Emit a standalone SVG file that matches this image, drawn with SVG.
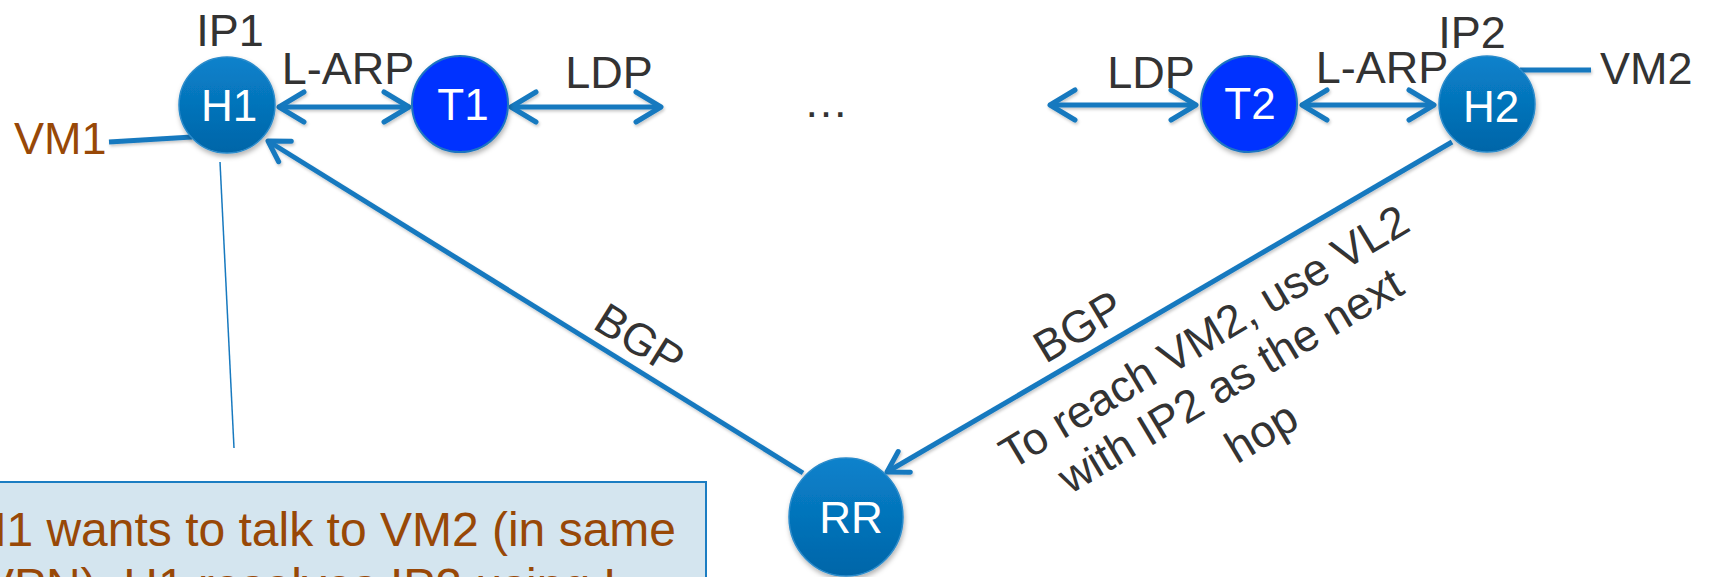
<svg xmlns="http://www.w3.org/2000/svg" width="1712" height="577" viewBox="0 0 1712 577">
  <defs>
    <linearGradient id="gH" x1="0" y1="0" x2="0" y2="1">
      <stop offset="0" stop-color="#0A82CC"/>
      <stop offset="1" stop-color="#0065A8"/>
    </linearGradient>
    <filter id="sh" x="-20%" y="-20%" width="140%" height="150%">
      <feDropShadow dx="1" dy="3" stdDeviation="2.5" flood-color="#000" flood-opacity="0.3"/>
    </filter>
    <filter id="shl" filterUnits="userSpaceOnUse" x="0" y="0" width="1712" height="577">
      <feDropShadow dx="1" dy="2" stdDeviation="1.5" flood-color="#000" flood-opacity="0.22"/>
    </filter>
    <marker id="ah" viewBox="-30 -18 34 36" markerWidth="34" markerHeight="36" refX="0" refY="0" markerUnits="userSpaceOnUse" orient="auto-start-reverse">
      <path d="M -25 -15 L 0 0 L -25 15" fill="none" stroke="#1779BF" stroke-width="5" stroke-linecap="round" stroke-linejoin="round"/>
    </marker>
    <marker id="ahs" viewBox="-30 -18 34 36" markerWidth="34" markerHeight="36" refX="0" refY="0" markerUnits="userSpaceOnUse" orient="auto">
      <path d="M -20 -12 L 0 0 L -20 12" fill="none" stroke="#1779BF" stroke-width="5" stroke-linecap="round" stroke-linejoin="round"/>
    </marker>
  </defs>
  <style>
    .lbl { font-family: "Liberation Sans", Arial, sans-serif; font-size: 45px; fill: #333333; }
    .brown { font-family: "Liberation Sans", Arial, sans-serif; fill: #984807; }
    .ntx { font-family: "Liberation Sans", Arial, sans-serif; font-size: 44px; fill: #FFFFFF; text-anchor: middle; }
    .hnode { fill: url(#gH); stroke: #2B8BCB; stroke-width: 1.5; filter: url(#sh); }
    .tnode { fill: #0433FF; stroke: #1E76C0; stroke-width: 2; filter: url(#sh); }
    .conn { stroke: #1779BF; stroke-width: 5; fill: none; }
    .thin { stroke: #1779BF; stroke-width: 1.5; fill: none; }
  </style>

  <g id="note">
    <rect x="-10" y="482" width="716" height="120" fill="#D4E5EF" stroke="#1B7DC2" stroke-width="2"/>
    <text class="brown" font-size="48" text-anchor="end" x="676" y="546">VM1 wants to talk to VM2 (in same</text>
    <text class="brown" font-size="48" text-anchor="middle" x="314" y="602">VPN), H1 resolves IP2 using L-</text>
  </g>

  <g id="connectors">
    <g filter="url(#shl)">
      <line class="conn" x1="279" y1="107" x2="409" y2="107" marker-start="url(#ah)" marker-end="url(#ah)"/>
      <line class="conn" x1="511" y1="107" x2="661" y2="107" marker-start="url(#ah)" marker-end="url(#ah)"/>
      <line class="conn" x1="1050" y1="105" x2="1196" y2="105" marker-start="url(#ah)" marker-end="url(#ah)"/>
      <line class="conn" x1="1302" y1="105" x2="1434" y2="105" marker-start="url(#ah)" marker-end="url(#ah)"/>
      <line class="conn" x1="803" y1="473" x2="268" y2="141" marker-end="url(#ahs)"/>
      <line class="conn" x1="1452" y1="142" x2="887" y2="472" marker-end="url(#ahs)"/>
      <line class="conn" x1="109" y1="142" x2="192" y2="137"/>
      <line class="conn" x1="1520" y1="70" x2="1591" y2="70"/>
    </g>
    <line class="thin" x1="220" y1="162" x2="234" y2="448"/>
  </g>

  <g id="H1">
    <circle class="hnode" cx="227" cy="105" r="48"/>
    <text class="ntx" x="229" y="121">H1</text>
  </g>
  <g id="T1">
    <circle class="tnode" cx="460" cy="104" r="48"/>
    <text class="ntx" x="463" y="120">T1</text>
  </g>
  <g id="T2">
    <circle class="tnode" cx="1249" cy="104" r="48"/>
    <text class="ntx" x="1250" y="119">T2</text>
  </g>
  <g id="H2">
    <circle class="hnode" cx="1487" cy="104" r="48"/>
    <text class="ntx" x="1491" y="122">H2</text>
  </g>
  <g id="RR">
    <ellipse class="hnode" cx="846" cy="517" rx="57" ry="59"/>
    <text class="ntx" x="851" y="533">RR</text>
  </g>

  <g id="labels">
    <text class="lbl" x="230" y="46" text-anchor="middle">IP1</text>
    <text class="lbl" x="348" y="84" text-anchor="middle">L-ARP</text>
    <text class="lbl" x="609" y="88" text-anchor="middle">LDP</text>
    <text class="lbl" x="826" y="117" text-anchor="middle">…</text>
    <text class="lbl" x="1151" y="88" text-anchor="middle">LDP</text>
    <text class="lbl" x="1382" y="83" text-anchor="middle">L-ARP</text>
    <text class="lbl" x="1472" y="48" text-anchor="middle">IP2</text>
    <text class="lbl" x="1600" y="84">VM2</text>
    <text class="brown" font-size="45" x="14" y="154">VM1</text>
    <text class="lbl" text-anchor="middle" transform="translate(640,339) rotate(32)" y="16">BGP</text>
    <text class="lbl" text-anchor="middle" transform="translate(1078,326) rotate(-31)" y="16">BGP</text>
    <g transform="translate(1212,350) rotate(-31)">
      <text class="lbl" text-anchor="middle" x="0" y="0">To reach VM2, use VL2</text>
      <text class="lbl" text-anchor="middle" x="0" y="51">with IP2 as the next</text>
      <text class="lbl" text-anchor="middle" x="0" y="111">hop</text>
    </g>
  </g>
</svg>
